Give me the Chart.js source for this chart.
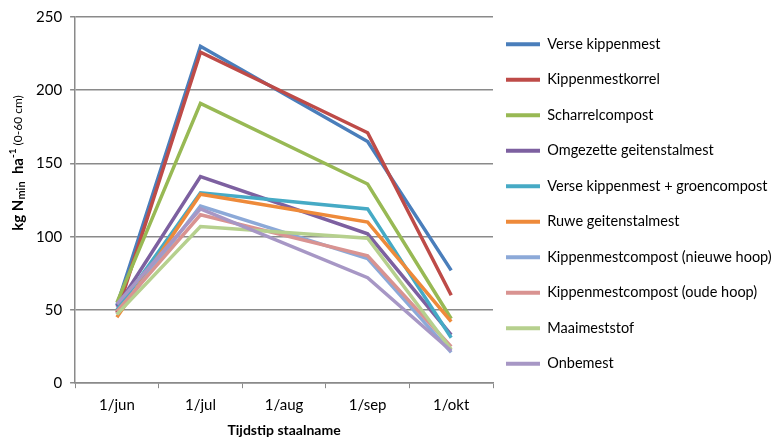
<!DOCTYPE html>
<html>
<head>
<meta charset="utf-8">
<script src="https://cdn.jsdelivr.net/npm/chart.js@4"></script>
<style>
  body { margin: 0; background: #fff; }
  #wrap { width: 776px; height: 441px; position: relative; }
</style>
</head>
<body>
<div id="wrap"><canvas id="chart"></canvas></div>
<script>
const labels = ["1/jun", "1/jul", "1/aug", "1/sep", "1/okt"];
const yTicks = [0, 50, 100, 150, 200, 250];

// no sample taken on 1/aug -> null, lines span the gap
const verseKippenmest = [53, 230, null, 165, 77];
const kippenmestkorrel = [48, 226, null, 171, 60];
const scharrelcompost = [55, 191, null, 136, 44];
const omgezetteGeitenstalmest = [52, 141, null, 102, 33];
const verseKippenmestGroencompost = [50, 130, null, 119, 31];
const ruweGeitenstalmest = [45, 129, null, 110, 42];
const kmcNieuweHoop = [47, 121, null, 85, 21];
const kmcOudeHoop = [49, 115, null, 87, 25];
const maaimeststof = [47, 107, null, 99, 23];
const onbemest = [54, 119, null, 72, 22];

const seriesNames = [
  "Verse kippenmest",
  "Kippenmestkorrel",
  "Scharrelcompost",
  "Omgezette geitenstalmest",
  "Verse kippenmest + groencompost",
  "Ruwe geitenstalmest",
  "Kippenmestcompost (nieuwe hoop)",
  "Kippenmestcompost (oude hoop)",
  "Maaimeststof",
  "Onbemest",
];
const seriesData = [
  verseKippenmest, kippenmestkorrel, scharrelcompost, omgezetteGeitenstalmest,
  verseKippenmestGroencompost, ruweGeitenstalmest, kmcNieuweHoop, kmcOudeHoop,
  maaimeststof, onbemest,
];
const colors = [
  "#4A7EBB", "#BE4B48", "#98B954", "#7D60A0", "#46AAC5",
  "#EE8A3A", "#8CA9D8", "#D99391", "#B6D08E", "#A797C5",
];

const FONT = "Lato, 'Open Sans', sans-serif";

// y axis title with sub/superscript
const yTitlePlugin = {
  id: "yTitle",
  afterDraw(chart) {
    const ctx = chart.ctx;
    const parts = [
      { t: "kg N", f: "bold 15px " + FONT, dy: 0 },
      { t: "min", f: "bold 11px " + FONT, dy: 3 },
      { t: "  ha", f: "bold 15px " + FONT, dy: 0 },
      { t: "-1", f: "bold 10px " + FONT, dy: -5 },
      { t: " (0-60 cm)", f: "12px " + FONT, dy: 0 },
    ];
    ctx.save();
    let total = 0;
    parts.forEach((p) => { ctx.font = p.f; p.w = ctx.measureText(p.t).width; total += p.w; });
    ctx.translate(18, 163);
    ctx.rotate(-Math.PI / 2);
    ctx.fillStyle = "#000";
    ctx.textBaseline = "middle";
    let x = -total / 2;
    parts.forEach((p) => {
      ctx.font = p.f;
      ctx.fillText(p.t, x, p.dy);
      x += p.w;
    });
    ctx.restore();
  },
};

// fixed legend width, and start it a bit left of the plot edge
const legendFit = {
  id: "legendFit",
  beforeLayout(chart) {
    const lg = chart.legend;
    if (lg && !lg._fixed) {
      const fit = lg.fit;
      lg.fit = function () {
        fit.call(this);
        this.width = 283;
      };
      lg._fixed = true;
    }
  },
  afterLayout(chart) {
    chart.legend.left = 485;
  },
};

const ctx = document.getElementById("chart").getContext("2d");
const chart = new Chart(ctx, {
  type: "line",
  data: {
    labels: labels,
    datasets: seriesNames.map((name, i) => ({
      label: name,
      data: seriesData[i],
      borderColor: colors[i],
      backgroundColor: colors[i],
      borderWidth: 3.5,
      pointRadius: 0,
      tension: 0,
      spanGaps: true,
      order: seriesNames.length - i,
    })),
  },
  options: {
    responsive: true,
    maintainAspectRatio: false,
    animation: false,
    layout: { padding: { top: 16, left: 28, right: 0, bottom: 2 } },
    plugins: {
      tooltip: { enabled: false },
      legend: {
        position: "right",
        align: "start",
        labels: {
          font: { family: FONT, size: 14.5 },
          color: "#000",
          boxWidth: 34,
          boxHeight: 4,
          padding: 21,
          sort: (a, b) => a.datasetIndex - b.datasetIndex,
          generateLabels(chart) {
            const items = Chart.defaults.plugins.legend.labels.generateLabels(chart);
            items.forEach((it) => { it.lineWidth = 0; });
            return items;
          },
        },
      },
    },
    scales: {
      x: {
        offset: true,
        grid: {
          offset: true,
          drawOnChartArea: false,
          drawTicks: true,
          tickLength: 5,
          color: "#8a8a8a",
        },
        border: { color: "#8a8a8a", width: 1.5 },
        ticks: { color: "#000", font: { family: FONT, size: 15 }, padding: 8 },
        title: {
          display: true,
          text: "Tijdstip staalname",
          color: "#000",
          font: { family: FONT, size: 14, weight: "bold" },
          padding: { top: 0, bottom: 0 },
        },
      },
      y: {
        min: 0,
        max: 250,
        afterBuildTicks(axis) {
          axis.ticks = yTicks.map((v) => ({ value: v }));
        },
        grid: { color: "#8a8a8a", lineWidth: 1.5, tickLength: 5 },
        border: { color: "#8a8a8a", width: 1.5 },
        ticks: { color: "#000", font: { family: FONT, size: 15 }, padding: 8 },
      },
    },
  },
  plugins: [yTitlePlugin, legendFit],
});
</script>
</body>
</html>
